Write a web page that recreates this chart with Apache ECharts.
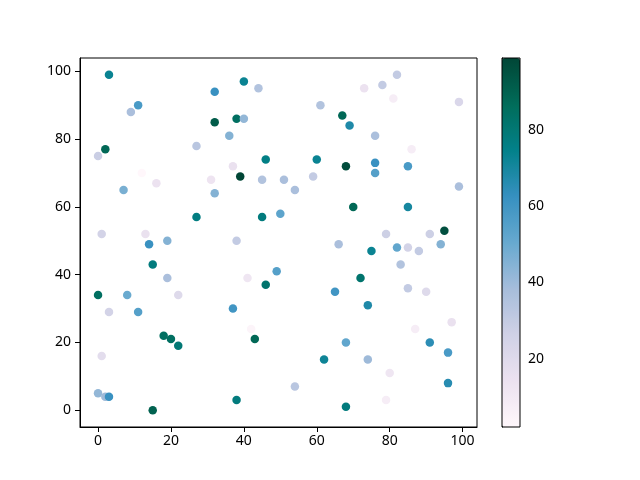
<!DOCTYPE html>
<html>
<head>
<meta charset="utf-8">
<script src="https://cdn.jsdelivr.net/npm/echarts@6/dist/echarts.min.js"></script>
<style>html,body{margin:0;padding:0;background:#fff;}#c{width:640px;height:480px;}</style>
</head>
<body>
<div id="c"></div>
<script>
var xs = [3,40,44,32,11,9,32,38,40,36,27,2,0,46,37,39,12,16,31,45,51,7,32,27,45,50,1,13,14,19,38,
  82,78,73,81,99,61,67,69,76,86,60,68,76,76,85,59,54,70,85,99,95,79,91,66,94,75,82,85,88,83,72,49,65,85,90,74,97,87,91,96,68,62,74,80,96,54,79,68,
  15,19,41,46,0,8,22,3,11,37,42,18,20,22,43,1,0,2,3,38,15];
var ys = [99,97,95,94,90,88,85,86,86,81,78,77,75,74,72,69,70,67,68,68,68,65,64,57,57,58,52,52,49,50,50,
  99,96,95,92,91,90,87,84,81,77,74,72,73,70,72,69,65,60,60,66,53,52,52,49,49,47,48,48,47,43,39,41,35,36,35,31,26,24,20,17,20,15,15,11,8,7,3,1,
  43,39,39,37,34,34,34,29,29,30,24,22,21,19,21,16,5,4,4,3,0];
var cs = [73,73,35,62,58,37,92,85,42,45,33,88,28,76,15,99,2,14,13,35,37,47,45,77,78,53,25,15,62,45,30,
  30,30,14,8,22,35,88,68,37,8,73,97,62,55,58,30,37,88,70,37,96,27,27,37,45,73,52,25,30,35,82,55,60,30,20,68,15,8,65,58,52,72,40,12,66,33,8,78,
  78,37,12,82,85,50,20,25,55,60,4,85,85,80,88,18,42,40,62,78,90];
var xTicks = [0,20,40,60,80,100];
var yTicks = [0,20,40,60,80,100];
var cTicks = [20,40,60,80];
var cmap = ['#fff7fb','#ece2f0','#d0d1e6','#a6bddb','#67a9cf','#3690c0','#02818a','#016c59','#014636'];

var pts = xs.map(function(x,i){ return [x, ys[i], cs[i]]; });
var cmin = Math.min.apply(null, cs), cmax = Math.max.apply(null, cs);
var font = {color:'#000', fontSize:14, fontFamily:'Noto Sans'};

var chart = echarts.init(document.getElementById('c'), null, {renderer:'canvas'});
chart.setOption({
  animation:false,
  backgroundColor:'#fff',
  grid:[
    {left:80, top:58, width:397, height:369, show:true, borderColor:'#000', borderWidth:1, backgroundColor:'transparent', z:10},
    {left:502, top:58, width:18, height:369, show:true, borderColor:'#000', borderWidth:1, backgroundColor:'transparent', z:10}
  ],
  xAxis:[
    {type:'value', gridIndex:0, min:-4.95, max:103.95, splitLine:{show:false},
     axisLine:{show:true, onZero:false, lineStyle:{color:'#000'}},
     axisTick:{show:true, length:5, lineStyle:{color:'#000'}, customValues:xTicks},
     axisLabel:Object.assign({margin:7, customValues:xTicks}, font)},
    {type:'value', gridIndex:1, min:0, max:1, show:false}
  ],
  yAxis:[
    {type:'value', gridIndex:0, min:-4.95, max:103.95, splitLine:{show:false},
     axisLine:{show:true, onZero:false, lineStyle:{color:'#000'}},
     axisTick:{show:true, length:5, lineStyle:{color:'#000'}, customValues:yTicks},
     axisLabel:Object.assign({margin:9, customValues:yTicks}, font)},
    {type:'value', gridIndex:1, position:'right', min:cmin, max:cmax, splitLine:{show:false},
     axisLine:{show:true, lineStyle:{color:'#000'}},
     axisTick:{show:true, length:5, lineStyle:{color:'#000'}, customValues:cTicks},
     axisLabel:Object.assign({margin:8, customValues:cTicks}, font)}
  ],
  visualMap:{
    type:'continuous', min:cmin, max:cmax, dimension:2, seriesIndex:0,
    left:502, top:58, itemWidth:18, itemHeight:369, padding:0,
    calculable:false, hoverLink:false, inRange:{color:cmap}, textStyle:{color:'transparent'}
  },
  series:[
    {type:'scatter', xAxisIndex:0, yAxisIndex:0, data:pts, symbolSize:8.5, itemStyle:{opacity:1}}
  ]
});
</script>
</body>
</html>
